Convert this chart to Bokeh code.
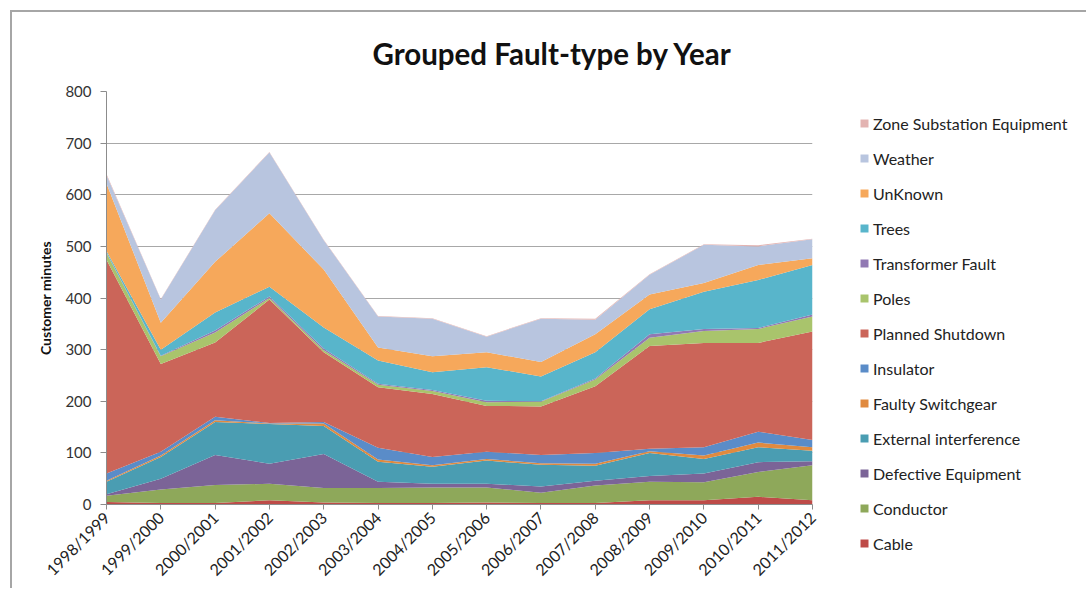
from bokeh.plotting import figure
from bokeh.models import ColumnDataSource, Range1d, FixedTicker, Legend, LegendItem, Title
from bokeh.layouts import row
from bokeh.embed import file_html
from bokeh.resources import INLINE
import math

years = ["1998/1999", "1999/2000", "2000/2001", "2001/2002", "2002/2003", "2003/2004", "2004/2005",
         "2005/2006", "2006/2007", "2007/2008", "2008/2009", "2009/2010", "2010/2011", "2011/2012"]

cable = [5, 3, 3, 8, 4, 3, 3, 4, 3, 3, 8, 8, 15, 8]
conductor = [12, 26, 35, 32, 28, 29, 30, 29, 20, 34, 36, 35, 48, 68]
defective_equipment = [3, 21, 58, 39, 66, 12, 7, 7, 12, 9, 11, 17, 19, 8]
external_interference = [24, 42, 64, 77, 54, 39, 33, 45, 42, 29, 45, 28, 29, 20]
faulty_switchgear = [2, 3, 3, 1, 5, 4, 3, 3, 3, 4, 3, 7, 9, 7]
insulator = [14, 7, 7, 1, 3, 23, 16, 14, 16, 21, 5, 16, 21, 14]
planned_shutdown = [414, 170, 144, 239, 135, 117, 122, 89, 94, 129, 199, 202, 172, 210]
poles = [13, 15, 19, 3, 4, 5, 6, 7, 9, 13, 16, 23, 27, 29]
transformer_fault = [1, 1, 4, 3, 3, 2, 2, 3, 1, 2, 7, 4, 2, 4]
trees = [3, 12, 35, 19, 41, 45, 34, 65, 48, 51, 48, 72, 93, 96]
unknown = [131, 52, 98, 142, 112, 25, 31, 29, 28, 35, 29, 17, 29, 13]
weather = [16, 45, 100, 118, 57, 60, 73, 30, 84, 28, 38, 74, 36, 37]
zone_substation = [2, 1, 1, 1, 1, 1, 1, 1, 1, 2, 1, 1, 2, 1]

names = ["Cable", "Conductor", "Defective Equipment", "External interference", "Faulty Switchgear",
         "Insulator", "Planned Shutdown", "Poles", "Transformer Fault", "Trees", "UnKnown",
         "Weather", "Zone Substation Equipment"]
series = [cable, conductor, defective_equipment, external_interference, faulty_switchgear,
          insulator, planned_shutdown, poles, transformer_fault, trees, unknown, weather, zone_substation]
colors = ["#BE4B48", "#8EA85A", "#7B6497", "#4A9DB2", "#E08A3F", "#5A8CC8", "#CB6559",
          "#A9C46C", "#9179B3", "#58B5CB", "#F6A85B", "#B8C5DF", "#E3B4B2"]

data = {"x": list(range(len(years)))}
keys = []
for i, s in enumerate(series):
    k = "s%d" % i
    keys.append(k)
    data[k] = s
source = ColumnDataSource(data)

FONT = "Lato"
OFF = 12  # offset of the content inside the outer chart border
H = 576   # height of the figures below the border

p = figure(width=834 - OFF, height=H, output_backend="svg", toolbar_location=None,
           x_range=Range1d(0, len(years) - 1), y_range=Range1d(0, 800),
           min_border_left=106 - OFF, min_border_right=22, min_border_top=91 - OFF,
           min_border_bottom=H + OFF - 506)
p.background_fill_color = "white"
p.border_fill_color = "white"
p.outline_line_color = None
p.frame_align = False

renderers = p.varea_stack(stackers=keys, x="x", color=colors, source=source)

# axes
p.xaxis.ticker = FixedTicker(ticks=list(range(len(years))))
p.xaxis.major_label_overrides = {i: y for i, y in enumerate(years)}
p.xaxis.major_label_orientation = math.pi / 4
p.xaxis.major_label_text_font = FONT
p.xaxis.major_label_text_font_size = "16px"
p.xaxis.major_label_text_color = "#222222"
p.xaxis.major_label_standoff = 5
p.xaxis.axis_line_color = "#8C8C8C"
p.xaxis.major_tick_line_color = "#8C8C8C"
p.xaxis.major_tick_out = 5
p.xaxis.major_tick_in = 0
p.xaxis.minor_tick_line_color = None

p.yaxis.ticker = FixedTicker(ticks=list(range(0, 801, 100)))
p.yaxis.major_label_text_font = FONT
p.yaxis.major_label_text_font_size = "15px"
p.yaxis.major_label_text_color = "#333333"
p.yaxis.axis_line_color = "#8C8C8C"
p.yaxis.major_tick_line_color = "#8C8C8C"
p.yaxis.major_tick_out = 6
p.yaxis.major_tick_in = 0
p.yaxis.major_label_standoff = 9
p.yaxis.minor_tick_line_color = None
p.yaxis.axis_label = "Customer minutes"
p.yaxis.axis_label_text_font = FONT
p.yaxis.axis_label_text_font_style = "bold"
p.yaxis.axis_label_text_font_size = "14px"
p.yaxis.axis_label_text_color = "#111111"
p.yaxis.axis_label_standoff = 8

p.xgrid.grid_line_color = None
p.ygrid.grid_line_color = "#A8A8A8"
p.ygrid.grid_line_width = 1

# title
p.title = Title(text="Grouped Fault-type by Year", align="left", offset=266,
                text_font=FONT, text_font_size="29.5px", text_font_style="bold", text_color="#111111")
p.title.standoff = 41

# legend panel: a second figure whose frame holds only the legend
lp = figure(width=252, height=H, output_backend="svg", toolbar_location=None,
            x_range=Range1d(1000, 1001), y_range=Range1d(0, 800),
            x_axis_location=None, y_axis_location=None,
            min_border_left=0, min_border_right=0, min_border_top=0, min_border_bottom=0)
lp.outline_line_color = None
lp.grid.grid_line_color = None
lp.background_fill_color = "white"
lp.border_fill_color = "white"
lp.frame_align = False
lrends = lp.varea_stack(stackers=keys, x="x", color=colors, source=source)

items = [LegendItem(label=names[i], renderers=[lrends[i]]) for i in reversed(range(len(names)))]
legend = Legend(items=items, location=(25, H + OFF - 553))
legend.label_text_font = FONT
legend.label_text_font_size = "16px"
legend.label_text_color = "#222222"
legend.glyph_width = 10
legend.glyph_height = 10
legend.label_height = 20
legend.spacing = 15
legend.label_standoff = 4
legend.padding = 0
legend.margin = 0
legend.border_line_color = None
legend.background_fill_alpha = 0
lp.add_layout(legend, "center")

layout = row(p, lp, spacing=0, margin=(10, 0, 0, 10),
             styles={"border-top": "2px solid #A6A6A6", "border-left": "2px solid #A6A6A6"})
open("out.html", "w").write(file_html(layout, INLINE))
